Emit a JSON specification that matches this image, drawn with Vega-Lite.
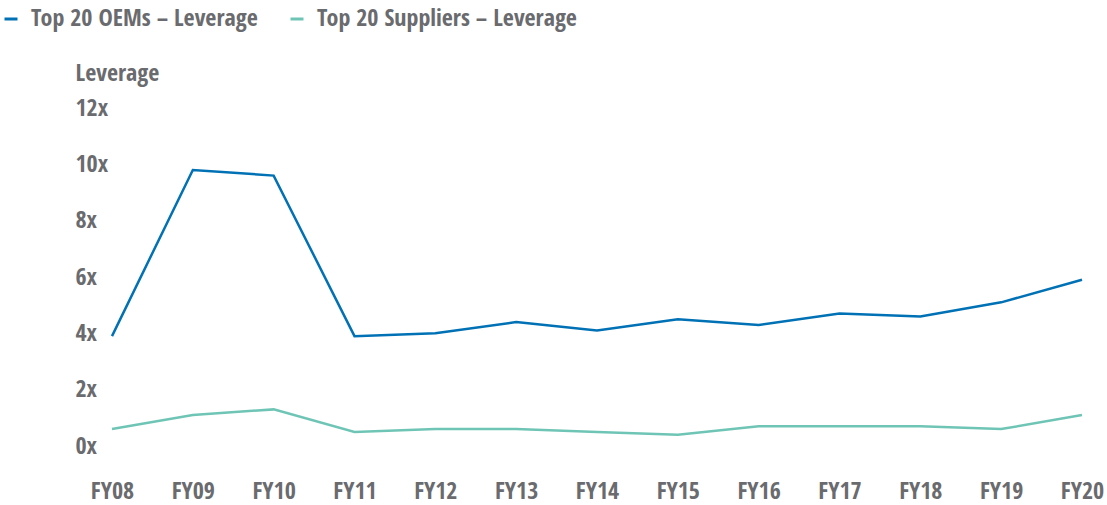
{
  "$schema": "https://vega.github.io/schema/vega-lite/v6.json",
  "autosize": "none",
  "padding": {"left": 112, "top": 108, "right": 25, "bottom": 59},
  "width": 970,
  "height": 338,
  "config": {
    "view": {"stroke": null},
    "font": "Open Sans Condensed, Liberation Sans Narrow, DejaVu Sans Condensed, Open Sans",
    "text": {"font": "Open Sans Condensed, Liberation Sans Narrow, DejaVu Sans Condensed, Open Sans"}
  },
  "data": {
    "values": [
      {"year": "FY08", "series": "Top 20 OEMs – Leverage", "value": 3.9},
      {"year": "FY09", "series": "Top 20 OEMs – Leverage", "value": 9.8},
      {"year": "FY10", "series": "Top 20 OEMs – Leverage", "value": 9.6},
      {"year": "FY11", "series": "Top 20 OEMs – Leverage", "value": 3.9},
      {"year": "FY12", "series": "Top 20 OEMs – Leverage", "value": 4.0},
      {"year": "FY13", "series": "Top 20 OEMs – Leverage", "value": 4.4},
      {"year": "FY14", "series": "Top 20 OEMs – Leverage", "value": 4.1},
      {"year": "FY15", "series": "Top 20 OEMs – Leverage", "value": 4.5},
      {"year": "FY16", "series": "Top 20 OEMs – Leverage", "value": 4.3},
      {"year": "FY17", "series": "Top 20 OEMs – Leverage", "value": 4.7},
      {"year": "FY18", "series": "Top 20 OEMs – Leverage", "value": 4.6},
      {"year": "FY19", "series": "Top 20 OEMs – Leverage", "value": 5.1},
      {"year": "FY20", "series": "Top 20 OEMs – Leverage", "value": 5.9},
      {"year": "FY08", "series": "Top 20 Suppliers – Leverage", "value": 0.6},
      {"year": "FY09", "series": "Top 20 Suppliers – Leverage", "value": 1.1},
      {"year": "FY10", "series": "Top 20 Suppliers – Leverage", "value": 1.3},
      {"year": "FY11", "series": "Top 20 Suppliers – Leverage", "value": 0.5},
      {"year": "FY12", "series": "Top 20 Suppliers – Leverage", "value": 0.6},
      {"year": "FY13", "series": "Top 20 Suppliers – Leverage", "value": 0.6},
      {"year": "FY14", "series": "Top 20 Suppliers – Leverage", "value": 0.5},
      {"year": "FY15", "series": "Top 20 Suppliers – Leverage", "value": 0.4},
      {"year": "FY16", "series": "Top 20 Suppliers – Leverage", "value": 0.7},
      {"year": "FY17", "series": "Top 20 Suppliers – Leverage", "value": 0.7},
      {"year": "FY18", "series": "Top 20 Suppliers – Leverage", "value": 0.7},
      {"year": "FY19", "series": "Top 20 Suppliers – Leverage", "value": 0.6},
      {"year": "FY20", "series": "Top 20 Suppliers – Leverage", "value": 1.1}
    ]
  },
  "mark": {"type": "line", "strokeWidth": 2.5},
  "encoding": {
    "x": {
      "field": "year",
      "type": "ordinal",
      "scale": {"type": "point", "padding": 0},
      "axis": {
        "title": null,
        "domain": false,
        "ticks": false,
        "grid": false,
        "labelAngle": 0,
        "labelPadding": 33,
        "labelFontSize": 24,
        "labelFontWeight": "bold",
        "labelColor": "#6a6b6e"
      }
    },
    "y": {
      "field": "value",
      "type": "quantitative",
      "scale": {"domain": [0, 12], "nice": false},
      "axis": {
        "values": [0, 2, 4, 6, 8, 10, 12],
        "labelExpr": "datum.value + 'x'",
        "domain": false,
        "ticks": false,
        "grid": false,
        "labelAlign": "left",
        "labelPadding": 37,
        "labelFontSize": 24,
        "labelFontWeight": "bold",
        "labelColor": "#6a6b6e",
        "title": "Leverage",
        "titleAngle": 0,
        "titleAlign": "left",
        "titleBaseline": "middle",
        "titleX": -37,
        "titleY": -35,
        "titleFontSize": 24,
        "titleFontWeight": "bold",
        "titleColor": "#6a6b6e"
      }
    },
    "color": {
      "field": "series",
      "type": "nominal",
      "scale": {
        "domain": ["Top 20 OEMs – Leverage", "Top 20 Suppliers – Leverage"],
        "range": ["#0071b5", "#6fc5b5"]
      },
      "legend": {
        "title": null,
        "orient": "none",
        "direction": "horizontal",
        "legendX": -113,
        "legendY": -101,
        "padding": 0,
        "symbolType": "stroke",
        "symbolStrokeWidth": 3,
        "symbolSize": 169,
        "labelFontSize": 24,
        "labelFontWeight": "bold",
        "labelColor": "#6a6b6e",
        "labelOffset": 8,
        "columnPadding": 26,
        "labelLimit": 400
      }
    }
  }
}
